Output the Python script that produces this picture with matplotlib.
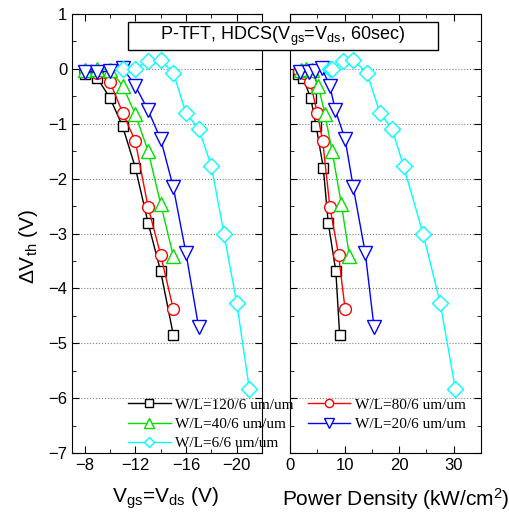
import numpy as np
import matplotlib.pyplot as plt
from matplotlib.patches import Rectangle
from matplotlib.ticker import MultipleLocator

plt.rcParams['font.family'] = ['Liberation Sans', 'DejaVu Sans']
plt.rcParams['mathtext.fontset'] = 'custom'
plt.rcParams['mathtext.rm'] = 'Liberation Sans'
plt.rcParams['mathtext.it'] = 'Liberation Sans'

# Tensao de stress (V) e deslocamento de Vth para cada W/L
v_120 = [-8, -9, -10, -11, -12, -13, -14, -15]
dvth_120 = [-0.09, -0.17, -0.53, -1.05, -1.80, -2.80, -3.69, -4.85]
p_120 = [1.5, 2.4, 3.8, 4.8, 6.1, 7.0, 8.4, 9.1]

v_80 = [-8, -9, -10, -11, -12, -13, -14, -15]
dvth_80 = [-0.03, -0.08, -0.24, -0.80, -1.32, -2.51, -3.39, -4.38]
p_80 = [1.7, 2.6, 3.7, 5.0, 6.0, 7.3, 8.9, 10.1]

v_40 = [-8, -9, -10, -11, -12, -13, -14, -15]
dvth_40 = [-0.02, 0.0, -0.02, -0.31, -0.83, -1.49, -2.46, -3.41]
p_40 = [2.0, 3.0, 4.0, 5.2, 6.4, 7.7, 9.4, 10.9]

v_20 = [-8, -9, -10, -11, -12, -13, -14, -15, -16, -17]
dvth_20 = [-0.05, -0.06, -0.04, 0.02, -0.31, -0.75, -1.28, -2.16, -3.36, -4.71]
p_20 = [1.8, 3.4, 4.6, 5.8, 7.3, 8.3, 10.1, 11.6, 13.8, 15.4]

v_6 = [-11, -12, -13, -14, -15, -16, -17, -18, -19, -20, -21]
dvth_6 = [0.0, 0.0, 0.15, 0.16, -0.07, -0.81, -1.09, -1.77, -3.01, -4.26, -5.83]
p_6 = [7.3, 7.7, 9.8, 11.6, 14.1, 16.5, 18.7, 20.8, 24.4, 27.5, 30.3]

series = [
    ("W/L=120/6 um/um", v_120, p_120, dvth_120, 'black', 's', 7.5),
    ("W/L=80/6 um/um", v_80, p_80, dvth_80, 'red', 'o', 8.5),
    ("W/L=40/6 um/um", v_40, p_40, dvth_40, '#00e000', '^', 9.5),
    ("W/L=20/6 um/um", v_20, p_20, dvth_20, 'blue', 'v', 9.5),
    ("W/L=6/6 um/um", v_6, p_6, dvth_6, 'cyan', 'D', 8),
]

fig = plt.figure(figsize=(5.10, 5.23), dpi=100)
ax1 = fig.add_axes([72/510, 1-453/523, 190/510, 439/523])
ax2 = fig.add_axes([290/510, 1-453/523, 191/510, 439/523])

handles = {}
for nome, v, p, dv, cor, mk, ms in series:
    h, = ax1.plot(v, dv, '-', color=cor, marker=mk, ms=ms, mfc='white',
                  mec=cor, mew=1.0, lw=1.0, label=nome)
    ax2.plot(p, dv, '-', color=cor, marker=mk, ms=ms, mfc='white',
             mec=cor, mew=1.0, lw=1.0)
    handles[nome] = h

for ax in (ax1, ax2):
    ax.set_ylim(-7, 1)
    ax.yaxis.set_major_locator(MultipleLocator(1))
    ax.yaxis.set_minor_locator(MultipleLocator(0.5))
    ax.grid(axis='y', which='major', ls=':', color='gray', lw=0.8)
    ax.tick_params(which='both', direction='in', top=True, right=True, labelsize=12)
    ax.tick_params(which='major', length=5)
    ax.tick_params(which='minor', length=3)

ax1.set_xlim(-7, -22)
ax1.xaxis.set_minor_locator(MultipleLocator(2))
ax1.set_xticks([-8, -12, -16, -20])
ax1.set_xlabel("V$_{gs}$=V$_{ds}$ (V)", fontsize=15)
ax1.xaxis.set_label_coords(0.49, -0.075)
ax1.set_ylabel("$\\Delta$V$_{th}$ (V)", fontsize=15)
ax1.yaxis.set_label_coords(-0.17, 0.47)

ax2.set_xlim(0, 35)
ax2.xaxis.set_major_locator(MultipleLocator(10))
ax2.xaxis.set_minor_locator(MultipleLocator(5))
ax2.tick_params(labelleft=False)
ax2.set_xlabel("Power Density (kW/cm$^2$)", fontsize=15)
ax2.xaxis.set_label_coords(0.555, -0.075)

# caixa do titulo
fig.patches.append(Rectangle((128/510, 1-50/523), 310/510, 28/523,
                             transform=fig.transFigure, fc='white', ec='black', lw=1.0))
fig.text(283/510, 1-36/523, "P-TFT, HDCS(V$_{gs}$=V$_{ds}$, 60sec)",
         ha='center', va='center', fontsize=13)

ordem = ["W/L=120/6 um/um", "W/L=40/6 um/um", "W/L=6/6 um/um",
         "W/L=80/6 um/um", "W/L=20/6 um/um"]
fig.legend([handles[n] for n in ordem], ordem, ncol=2, frameon=False,
           loc='upper left', bbox_to_anchor=(122/510, 1-392/523),
           prop={'family': 'Liberation Serif', 'size': 11}, numpoints=1,
           handlelength=2.8, handletextpad=0.3, columnspacing=0.9,
           labelspacing=0.35, markerscale=0.7, borderaxespad=0)

fig.savefig("out.png", dpi=100)
